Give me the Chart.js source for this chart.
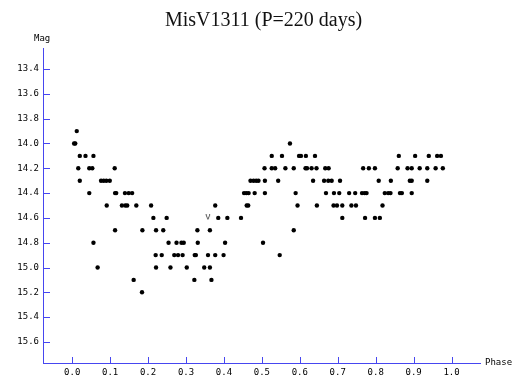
<!DOCTYPE html>
<html>
<head>
<meta charset="utf-8">
<script src="https://cdn.jsdelivr.net/npm/chart.js@4"></script>
<style>
  html, body { margin: 0; padding: 0; background: #fff; }
</style>
</head>
<body>
<canvas id="c" width="512" height="376"></canvas>
<script>
const chartTitle = "MisV1311 (P=220 days)";

// phase / magnitude of the dot observations, read row by row
const phase = [
  0.012,
  0.005, 0.008, 0.574,
  0.020, 0.035, 0.056, 0.526, 0.553, 0.598, 0.603, 0.616, 0.640, 0.861, 0.904, 0.940, 0.962, 0.972,
  0.016, 0.045, 0.053, 0.112, 0.507, 0.526, 0.535, 0.562, 0.584, 0.615, 0.619, 0.631, 0.644, 0.667, 0.676, 0.767, 0.782, 0.798, 0.858, 0.884, 0.895, 0.916, 0.936, 0.958, 0.977,
  0.020, 0.076, 0.083, 0.090, 0.099, 0.470, 0.478, 0.485, 0.491, 0.508, 0.543, 0.635, 0.664, 0.675, 0.684, 0.706, 0.808, 0.840, 0.890, 0.895, 0.936,
  0.045, 0.113, 0.116, 0.139, 0.149, 0.158, 0.453, 0.459, 0.465, 0.481, 0.508, 0.589, 0.669, 0.690, 0.704, 0.730, 0.746, 0.764, 0.771, 0.776, 0.824, 0.833, 0.839, 0.864, 0.869, 0.895,
  0.091, 0.131, 0.140, 0.145, 0.169, 0.208, 0.377, 0.460, 0.464, 0.594, 0.645, 0.689, 0.698, 0.712, 0.736, 0.748, 0.818,
  0.214, 0.249, 0.385, 0.409, 0.445, 0.712, 0.772, 0.798, 0.811,
  0.113, 0.185, 0.221, 0.240, 0.330, 0.363, 0.584,
  0.056, 0.254, 0.275, 0.288, 0.294, 0.331, 0.403, 0.503,
  0.220, 0.236, 0.269, 0.279, 0.291, 0.323, 0.326, 0.358, 0.377, 0.399, 0.547,
  0.067, 0.221, 0.259, 0.302, 0.348, 0.363,
  0.162, 0.322, 0.367,
  0.184
];
const mag = [
  13.9,
  14.0, 14.0, 14.0,
  14.1, 14.1, 14.1, 14.1, 14.1, 14.1, 14.1, 14.1, 14.1, 14.1, 14.1, 14.1, 14.1, 14.1,
  14.2, 14.2, 14.2, 14.2, 14.2, 14.2, 14.2, 14.2, 14.2, 14.2, 14.2, 14.2, 14.2, 14.2, 14.2, 14.2, 14.2, 14.2, 14.2, 14.2, 14.2, 14.2, 14.2, 14.2, 14.2,
  14.3, 14.3, 14.3, 14.3, 14.3, 14.3, 14.3, 14.3, 14.3, 14.3, 14.3, 14.3, 14.3, 14.3, 14.3, 14.3, 14.3, 14.3, 14.3, 14.3, 14.3,
  14.4, 14.4, 14.4, 14.4, 14.4, 14.4, 14.4, 14.4, 14.4, 14.4, 14.4, 14.4, 14.4, 14.4, 14.4, 14.4, 14.4, 14.4, 14.4, 14.4, 14.4, 14.4, 14.4, 14.4, 14.4, 14.4,
  14.5, 14.5, 14.5, 14.5, 14.5, 14.5, 14.5, 14.5, 14.5, 14.5, 14.5, 14.5, 14.5, 14.5, 14.5, 14.5, 14.5,
  14.6, 14.6, 14.6, 14.6, 14.6, 14.6, 14.6, 14.6, 14.6,
  14.7, 14.7, 14.7, 14.7, 14.7, 14.7, 14.7,
  14.8, 14.8, 14.8, 14.8, 14.8, 14.8, 14.8, 14.8,
  14.9, 14.9, 14.9, 14.9, 14.9, 14.9, 14.9, 14.9, 14.9, 14.9, 14.9,
  15.0, 15.0, 15.0, 15.0, 15.0, 15.0,
  15.1, 15.1, 15.1,
  15.2
];

// the single "V" observation
const vPhase = [0.358];
const vMag = [14.6];

const xTicks = [0.0, 0.1, 0.2, 0.3, 0.4, 0.5, 0.6, 0.7, 0.8, 0.9, 1.0];
const yTicks = [13.4, 13.6, 13.8, 14.0, 14.2, 14.4, 14.6, 14.8, 15.0, 15.2, 15.4, 15.6];

const axisColor = "rgb(70,70,240)";
const labelFont = { family: "DejaVu Sans Mono", size: 9 };

// little "V" glyph used as point style
const vMark = document.createElement("canvas");
vMark.width = 6; vMark.height = 7;
{
  const g = vMark.getContext("2d");
  g.fillStyle = "#111";
  g.font = "7px 'DejaVu Sans'";
  g.textAlign = "center";
  g.textBaseline = "middle";
  g.fillText("V", 3, 3.5);
}

const extras = {
  id: "extras",
  afterDraw(chart) {
    const { ctx, chartArea: a, scales: { x, y } } = chart;
    ctx.save();
    ctx.strokeStyle = axisColor;
    ctx.lineWidth = 1;
    ctx.beginPath();
    xTicks.forEach(v => {
      const px = Math.round(x.getPixelForValue(v)) + 0.5;
      ctx.moveTo(px, a.bottom);
      ctx.lineTo(px, a.bottom - 6);
    });
    yTicks.forEach(v => {
      const py = Math.round(y.getPixelForValue(v)) + 0.5;
      ctx.moveTo(a.left, py);
      ctx.lineTo(a.left + 7, py);
    });
    ctx.stroke();

    ctx.fillStyle = "#111";
    ctx.font = "20px 'Liberation Serif'";
    ctx.textAlign = "center";
    ctx.textBaseline = "middle";
    ctx.fillText(chartTitle, 263.5, 21);

    ctx.fillStyle = "#000";
    ctx.font = "9px 'DejaVu Sans Mono'";
    ctx.textAlign = "left";
    ctx.fillText("Mag", 34, 39);
    ctx.fillText("Phase", 485, 363);
    ctx.restore();
  }
};

const ctx = document.getElementById("c").getContext("2d");
new Chart(ctx, {
  type: "scatter",
  data: {
    datasets: [
      {
        label: "obs",
        data: phase.map((p, i) => ({ x: p, y: mag[i] })),
        pointRadius: 2.2,
        pointBackgroundColor: "#000",
        pointBorderWidth: 0,
      },
      {
        label: "V",
        data: vPhase.map((p, i) => ({ x: p, y: vMag[i] })),
        pointStyle: vMark,
      },
    ],
  },
  options: {
    responsive: false,
    animation: false,
    layout: { padding: { top: 48, right: 32, left: 0, bottom: 0 } },
    plugins: {
      legend: { display: false },
      tooltip: { enabled: false },
      title: { display: false },
    },
    scales: {
      x: {
        type: "linear",
        min: -0.077,
        max: 1.075,
        grid: { display: false, drawTicks: false },
        border: { display: true, color: axisColor, width: 1 },
        afterBuildTicks: s => { s.ticks = xTicks.map(v => ({ value: v })); },
        afterFit: s => { s.height = 13; },
        ticks: {
          padding: 4,
          font: labelFont,
          color: "#000",
          autoSkip: false,
          maxRotation: 0,
          callback: v => v.toFixed(1),
        },
      },
      y: {
        type: "linear",
        reverse: true,
        min: 13.23,
        max: 15.77,
        grid: { display: false, drawTicks: false },
        border: { display: true, color: axisColor, width: 1 },
        afterBuildTicks: s => { s.ticks = yTicks.map(v => ({ value: v })); },
        afterFit: s => { s.width = 43; },
        ticks: {
          padding: 4,
          font: labelFont,
          color: "#000",
          autoSkip: false,
          callback: v => v.toFixed(1),
        },
      },
    },
  },
  plugins: [extras],
});
</script>
</body>
</html>
